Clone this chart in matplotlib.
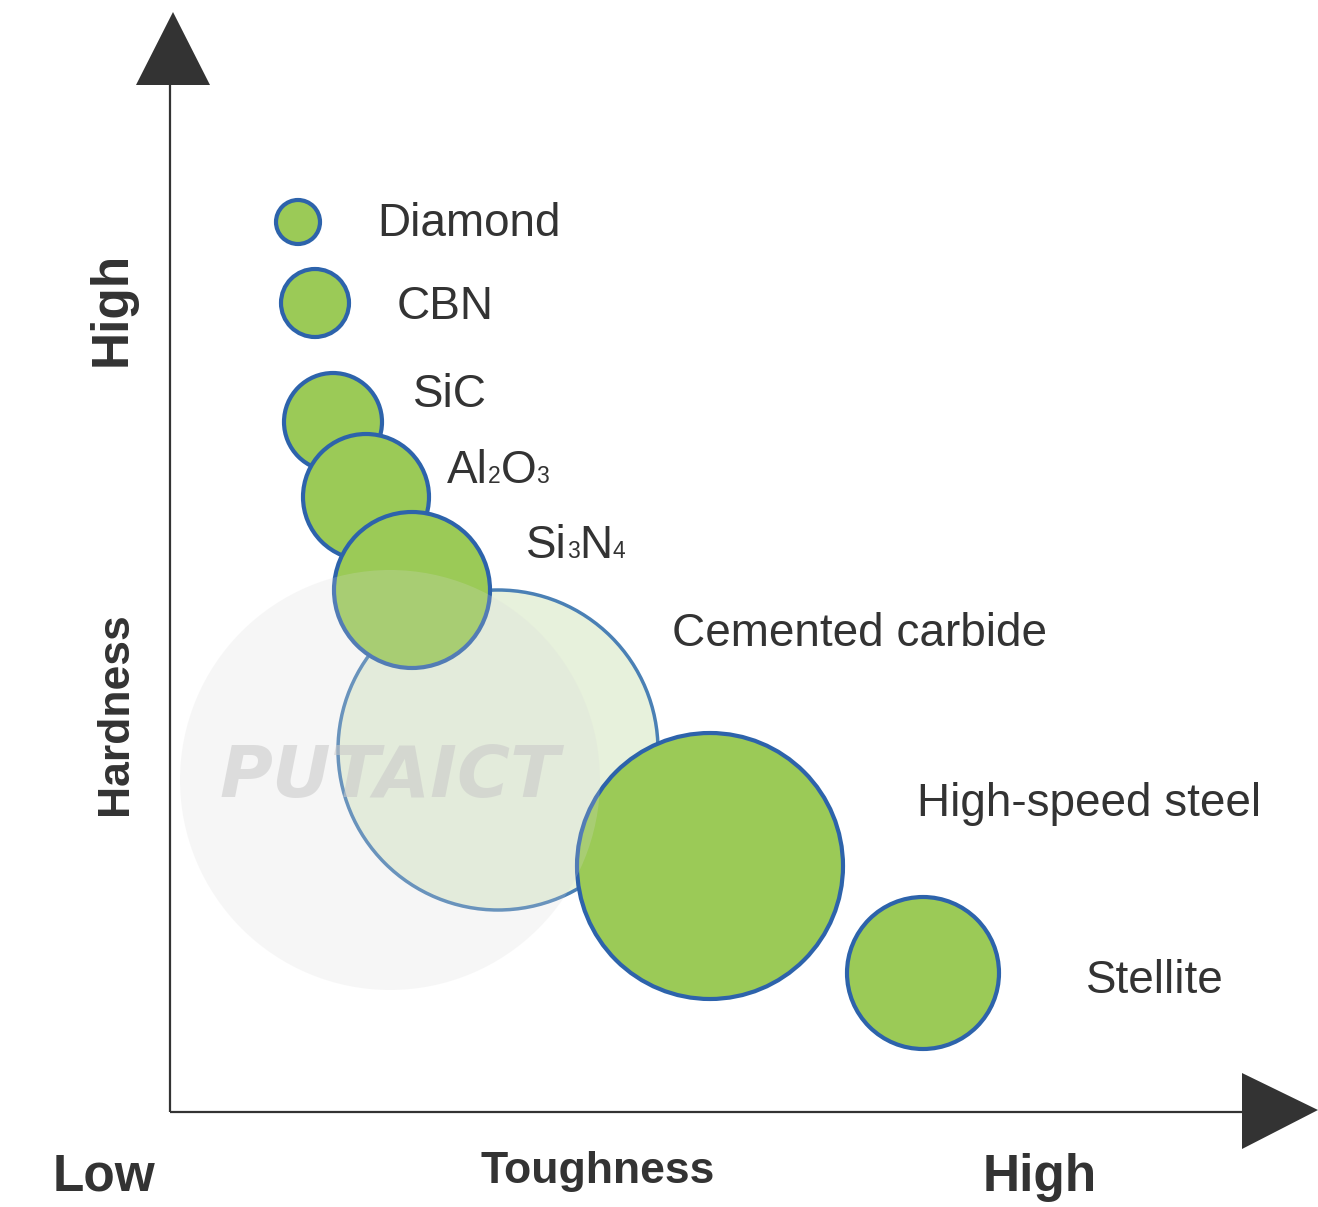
import re
import matplotlib
matplotlib.use("Agg")
import matplotlib.pyplot as plt
from matplotlib.patches import Circle, Polygon
from matplotlib.transforms import offset_copy

plt.rcParams["font.family"] = ["Liberation Sans", "DejaVu Sans"]

# materials, toughness (x), hardness (y), bubble radius
materials = ["Diamond", "CBN", "SiC", "Al2O3", "Si3N4", "Cemented carbide",
             "High-speed steel", "Stellite"]
toughness = [128, 145, 163, 196, 242, 328, 540, 753]
hardness = [890, 809, 690, 615, 522, 362, 246, 139]
radius = [22, 34, 49, 63, 78, 160, 133, 76]

# label anchor (left, baseline)
label_x = [207, 227, 243, 277, 356, 502, 747, 916]
label_y = [876, 793, 705, 629, 554, 466, 296, 119]

GREEN = "#9BCA57"
BLUE = "#2D63AB"
DARK = "#333333"

fig = plt.figure(figsize=(13.18, 12.07), dpi=100)
ax = fig.add_axes([0, 0, 1, 1])
ax.set_xlim(-170, 1148)
ax.set_ylim(-95, 1112)
ax.axis("off")
renderer = fig.canvas.get_renderer()


def draw_label(x, y, s, size=33):
    # digits drawn as small subscripts sitting on the baseline
    dx = 0
    for part in re.findall(r"\d+|\D+", s):
        fs = size * 0.5 if part.isdigit() else size
        tr = offset_copy(ax.transData, fig=fig, x=dx, y=0, units="dots")
        t = ax.text(x, y, part, fontsize=fs, color=DARK, ha="left",
                    va="baseline", transform=tr, zorder=5)
        dx += t.get_window_extent(renderer).width


order = [5, 0, 1, 2, 3, 4, 6, 7]
for i in order:
    if i == 5:
        c = Circle((toughness[i], hardness[i]), radius[i], facecolor="#E7F1DC",
                   edgecolor="#4A80B5", lw=2.5, zorder=2)
    else:
        c = Circle((toughness[i], hardness[i]), radius[i], facecolor=GREEN,
                   edgecolor=BLUE, lw=3, zorder=3)
    ax.add_patch(c)
    draw_label(label_x[i], label_y[i], materials[i])

# faint watermark
ax.add_patch(Circle((220, 332), 210, facecolor="#D9D9D9", edgecolor="none",
                    alpha=0.22, zorder=4))
ax.text(220, 334, "PUTAICT", fontsize=52, fontweight="heavy", style="italic",
        color="#C8C8C8", alpha=0.55, ha="center", va="center", zorder=4,
        family="DejaVu Sans")

# axes lines and arrow heads
ax.plot([0, 0], [0, 1030], color=DARK, lw=1.6, zorder=1, solid_capstyle="butt")
ax.plot([0, 1075], [0, 0], color=DARK, lw=1.6, zorder=1, solid_capstyle="butt")
ax.add_patch(Polygon([[-34, 1027], [40, 1027], [3, 1100]], closed=True,
                     facecolor=DARK, edgecolor="none"))
ax.add_patch(Polygon([[1072, 39], [1072, -37], [1148, 2]], closed=True,
                     facecolor=DARK, edgecolor="none"))

# axis texts
ax.text(-66, -65, "Low", fontsize=37, fontweight="bold", color=DARK,
        ha="center", va="center")
ax.text(870, -65, "High", fontsize=37, fontweight="bold", color=DARK,
        ha="center", va="center")
ax.text(428, -60, "Toughness", fontsize=32, fontweight="bold", color=DARK,
        ha="center", va="center")
ax.text(-58, 803, "High", fontsize=37, fontweight="bold", color=DARK,
        ha="center", va="center", rotation=90)
ax.text(-54, 398, "Hardness", fontsize=32, fontweight="bold", color=DARK,
        ha="center", va="center", rotation=90)

fig.savefig("out.png", dpi=100, facecolor="white")
